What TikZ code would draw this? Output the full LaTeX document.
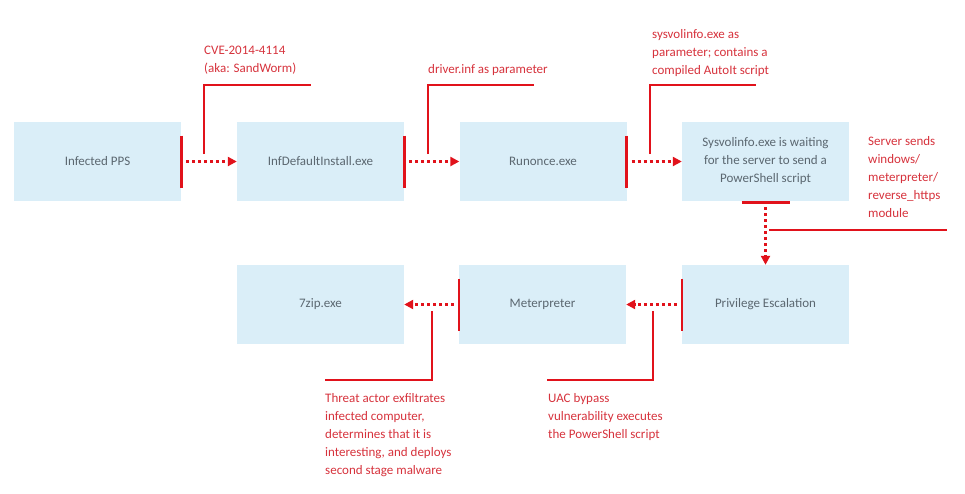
\documentclass[tikz,border=0pt]{standalone}
\usepackage{fontspec}
\setmainfont{Carlito}
\usetikzlibrary{arrows.meta}
\definecolor{boxblue}{HTML}{DAEEF8}
\definecolor{boxtext}{HTML}{5B6770}
\definecolor{notered}{HTML}{D6323C}
\definecolor{linered}{HTML}{E1121B}
\begin{document}
\begin{tikzpicture}[x=1pt,y=-1pt,
  stage/.style={fill=boxblue, minimum width=167pt, minimum height=79pt, inner sep=0pt,
    text=boxtext, align=center, font=\fontsize{13}{18}\selectfont},
  note/.style={text=notered, align=left, anchor=north west, inner sep=0pt,
    font=\fontsize{13}{18}\selectfont},
  flow/.style={linered, line width=3pt, dash pattern=on 3pt off 3pt,
    -{Triangle[length=9pt,width=9pt]}},
  bar/.style={linered, line width=2.6pt},
  lead/.style={linered, line width=1.1pt}]
  \useasboundingbox (0,0) rectangle (965,493);
  % top row
  \node[stage] (pps) at (97.5,161.5) {Infected PPS};
  \node[stage] (inf) at (320.5,161.5) {InfDefaultInstall.exe};
  \node[stage] (run) at (543,161.5) {Runonce.exe};
  \node[stage] (sys) at (765.5,161.5) {Sysvolinfo.exe is waiting\\for the server to send a\\PowerShell script};
  % bottom row
  \node[stage] (zip) at (320.5,304.5) {7zip.exe};
  \node[stage] (met) at (542.5,304.5) {Meterpreter};
  \node[stage] (priv) at (765.5,304.5) {Privilege Escalation};
  % bars
  \draw[bar] ([yshift=26pt]pps.east) -- ([yshift=-26pt]pps.east);
  \draw[bar] ([yshift=26pt]inf.east) -- ([yshift=-26pt]inf.east);
  \draw[bar] ([yshift=26pt]run.east) -- ([yshift=-26pt]run.east);
  \draw[bar] ([xshift=-24pt,yshift=-1.5pt]sys.south) -- ([xshift=24pt,yshift=-1.5pt]sys.south);
  \draw[bar] ([yshift=26pt]priv.west) -- ([yshift=-26pt]priv.west);
  \draw[bar] ([yshift=26pt]met.west) -- ([yshift=-26pt]met.west);
  % arrows
  \draw[flow] ([xshift=5pt]pps.east) -- (inf.west);
  \draw[flow] ([xshift=5pt]inf.east) -- (run.west);
  \draw[flow] ([xshift=5pt]run.east) -- (sys.west);
  \draw[flow] ([yshift=-6pt]sys.south) -- (priv.north);
  \draw[flow] ([xshift=-5pt]priv.west) -- (met.east);
  \draw[flow] ([xshift=-5pt]met.west) -- (zip.east);
  % notes
  \node[note] (cve) at (204,46) {CVE-2014-4114\\(aka: SandWorm)};
  \node[note] (drv) at (428,64) {driver.inf as parameter};
  \node[note] (sysnote) at (652,29) {sysvolinfo.exe as\\parameter; contains a\\compiled AutoIt script};
  \node[note] (srv) at (868,136) {Server sends\\windows/\\meterpreter/\\reverse\_https\\module};
  \node[note] (thr) at (325,393) {Threat actor exfiltrates\\infected computer,\\determines that it is\\interesting, and deploys\\second stage malware};
  \node[note] (uac) at (548,393) {UAC bypass\\vulnerability executes\\the PowerShell script};
  % leader lines
  \coordinate (l1a) at (204,154); \coordinate (l1b) at (311,85);
  \coordinate (l2a) at (428,154); \coordinate (l2b) at (534,85);
  \coordinate (l3a) at (650,154); \coordinate (l3b) at (756,85);
  \coordinate (l4a) at (769,230); \coordinate (l4b) at (947,230);
  \coordinate (l5a) at (432,311); \coordinate (l5b) at (325,380);
  \coordinate (l6a) at (653,311); \coordinate (l6b) at (547,380);
  \draw[lead] (l1a) |- (l1b);
  \draw[lead] (l2a) |- (l2b);
  \draw[lead] (l3a) |- (l3b);
  \draw[lead] (l4a) -- (l4b);
  \draw[lead] (l5a) |- (l5b);
  \draw[lead] (l6a) |- (l6b);
\end{tikzpicture}
\end{document}
